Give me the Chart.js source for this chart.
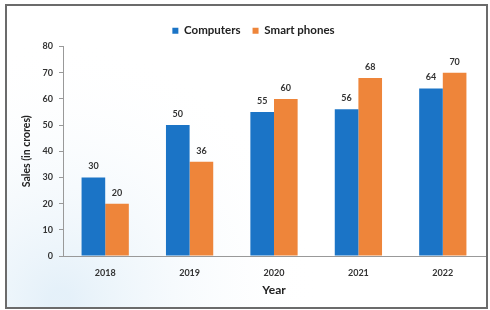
<!DOCTYPE html>
<html><head><meta charset="utf-8">
<script src="https://cdn.jsdelivr.net/npm/chart.js@4"></script>
<style>html,body{margin:0;padding:0;background:#fff;}#wrap{width:490px;height:310px;position:relative;}</style>
</head><body><div id="wrap"><canvas id="c" width="490" height="310"></canvas></div>
<script>
const categories = ['2018', '2019', '2020', '2021', '2022'];
const computers = [30, 50, 55, 56, 64];
const smartPhones = [20, 36, 60, 68, 70];
const yTicks = [0, 10, 20, 30, 40, 50, 60, 70, 80];

const FONT = 'Lato, "Open Sans", sans-serif';

const borderPlugin = {
  id: 'frame',
  beforeDraw(chart) {
    const ctx = chart.ctx;
    ctx.save();
    ctx.fillStyle = '#fff';
    ctx.fillRect(0, 0, chart.width, chart.height);
    const g = ctx.createRadialGradient(60, 300, 10, 60, 300, 260);
    g.addColorStop(0, 'rgba(224,238,248,0.85)');
    g.addColorStop(1, 'rgba(255,255,255,0)');
    ctx.fillStyle = g;
    ctx.fillRect(6, 5, 481, 303);
    ctx.strokeStyle = '#6b6b6b';
    ctx.lineWidth = 2;
    ctx.strokeRect(6, 5, 481, 303);
    ctx.restore();
  }
};

const legendShift = {
  id: 'legendShift',
  afterLayout(chart) {
    if (chart.legend) {
      chart.legend.left += 11;
      chart.legend.right += 11;
    }
  }
};

const labelPlugin = {
  id: 'vals',
  afterDatasetsDraw(chart) {
    const ctx = chart.ctx;
    ctx.save();
    ctx.font = 'bold 9px ' + FONT;
    ctx.fillStyle = '#333';
    ctx.textAlign = 'center';
    ctx.textBaseline = 'middle';
    chart.data.datasets.forEach((ds, i) => {
      chart.getDatasetMeta(i).data.forEach((bar, j) => {
        ctx.fillText(String(ds.data[j]), bar.x, bar.y - 11);
      });
    });
    ctx.restore();
  }
};

new Chart(document.getElementById('c'), {
  type: 'bar',
  data: {
    labels: categories,
    datasets: [
      { label: 'Computers', data: computers, backgroundColor: '#1b74c6' },
      { label: 'Smart phones', data: smartPhones, backgroundColor: '#ee853a' }
    ]
  },
  options: {
    responsive: false,
    animation: false,
    events: [],
    layout: { padding: { left: 0, right: 5, top: 13, bottom: 0 } },
    datasets: { bar: { categoryPercentage: 0.56, barPercentage: 1.0 } },
    plugins: {
      legend: {
        position: 'top',
        labels: {
          boxWidth: 6, boxHeight: 6, padding: 12,
          color: '#222',
          font: { family: FONT, size: 11.5, weight: 'bold' }
        }
      },
      tooltip: { enabled: false },
      title: { display: false }
    },
    scales: {
      x: {
        grid: { display: false, drawTicks: false },
        border: { display: true, color: '#999', width: 1 },
        ticks: { color: '#333', padding: 12, font: { family: FONT, size: 9, weight: 'bold' } },
        title: { display: true, text: 'Year', color: '#222', padding: { top: 3, bottom: 13 }, font: { family: FONT, size: 12, weight: 'bold' } },
        afterFit(s) { s.height = 54; }
      },
      y: {
        min: 0, max: 80,
        afterBuildTicks(s) { s.ticks = yTicks.map(v => ({ value: v })); },
        grid: { display: true, drawOnChartArea: false, tickLength: 4, color: '#999' },
        border: { display: true, color: '#999', width: 1 },
        ticks: { color: '#333', padding: 6, font: { family: FONT, size: 9, weight: 'bold' } },
        title: { display: true, text: 'Sales (in crores)', color: '#222', padding: { top: 20, bottom: 0 }, font: { family: FONT, size: 10.5, weight: 'bold' } },
        afterFit(s) { s.width = 63; }
      }
    }
  },
  plugins: [borderPlugin, legendShift, labelPlugin]
});
</script></body></html>
